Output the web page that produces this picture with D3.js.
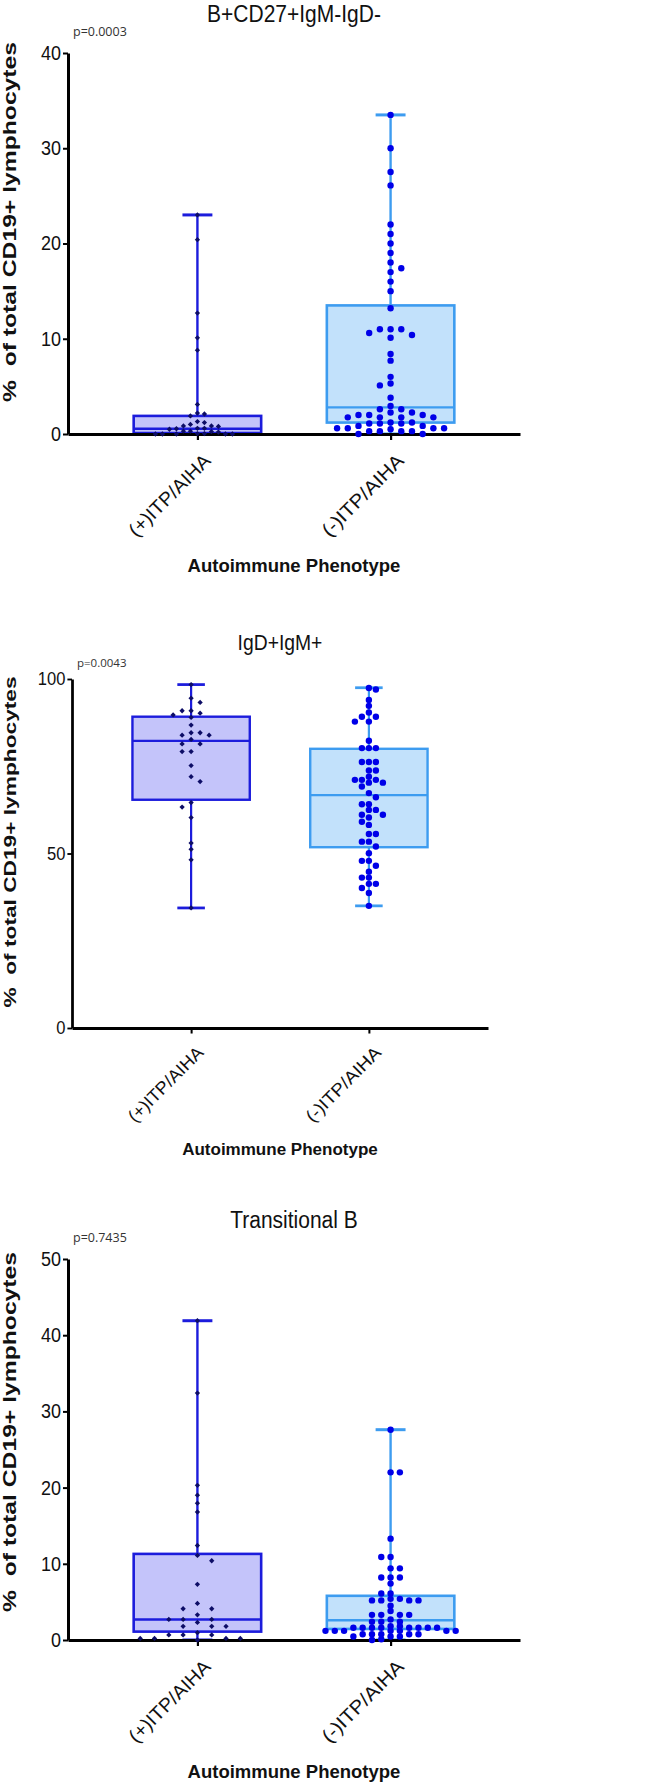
<!DOCTYPE html>
<html lang="en">
<head>
<meta charset="UTF-8">
<title>B cell subsets by autoimmune phenotype</title>
<script src="https://cdnjs.cloudflare.com/ajax/libs/d3/7.8.5/d3.min.js"></script>
<style>
  body { margin: 0; background: #fff; }
  svg { display: block; }
  text { font-family: "Liberation Sans", Arial, Helvetica, sans-serif; fill: #111; }
  .pval { font-family: "Open Sans", "DejaVu Sans", sans-serif; fill: #333; }
  .axis-title { font-weight: bold; }
</style>
</head>
<body>
<svg id="fig" width="661" height="1784"></svg>
<script>
const groups = ["(+)ITP/AIHA", "(-)ITP/AIHA"];
const titles = ["B+CD27+IgM-IgD-", "IgD+IgM+", "Transitional B"];
const pValues = ["p=0.0003", "p=0.0043", "p=0.7435"];
const yTicks = [[0, 10, 20, 30, 40], [0, 50, 100], [0, 10, 20, 30, 40, 50]];
const yMax = [40, 100, 50];
const yLabel = "%  of total CD19+ lymphocytes";
const xLabel = "Autoimmune Phenotype";

// individual values
const memPos = [23.0, 20.4, 12.7, 10.1, 8.8, 3.1, 2.2, 2.1, 1.9, 1.3, 1.2, 1.0, 0.85, 0.85, 0.8,
  0.6, 0.6, 0.55, 0.5, 0.3, 0.3, 0.25, 0.2, 0.05, 0.05, 0, 0, 0, 0, 0];
const memNeg = [33.5, 30.0, 27.5, 26.1, 22.0, 21.0, 20.0, 19.0, 18.0, 17.4, 17.0, 16.0, 15.0, 13.2,
  11.0, 11.0, 11.0, 10.6, 10.4, 10.1, 8.4, 7.7, 6.0, 5.3, 5.1, 3.8, 2.95, 2.6, 2.6, 2.25, 2.25,
  2.0, 2.0, 2.0, 1.75, 1.75, 1.75, 1.75, 1.2, 1.2, 1.1, 1.1, 1.1, 0.85, 0.85, 0.6, 0.6, 0.6, 0.6,
  0.5, 0.3, 0.3, 0.3, 0.3, 0, 0];
const igdPos = [98.4, 94.5, 93.3, 90.9, 90.9, 90.2, 89.7, 89.0, 86.8, 84.6, 84.6, 83.9, 83.9, 82.7,
  81.4, 81.4, 79.2, 79.2, 75.2, 72.0, 70.6, 64.6, 63.3, 60.3, 53.0, 51.2, 48.2, 34.4];
const igdNeg = [97.4, 97.0, 94.0, 92.3, 90.4, 89.2, 89.2, 87.8, 87.8, 82.3, 80.2, 80.2, 80.2, 76.2,
  76.2, 76.2, 73.8, 73.8, 72.0, 71.1, 71.1, 71.1, 70.3, 70.3, 69.2, 67.3, 66.1, 64.1, 64.1, 62.5,
  62.5, 61.1, 61.1, 60.3, 59.1, 58.2, 55.6, 55.6, 53.4, 53.4, 52.0, 50.1, 47.9, 47.9, 46.5, 44.8,
  43.1, 43.1, 41.3, 41.3, 40.1, 38.7, 35.0];
const transPos = [41.9, 32.4, 20.3, 19.0, 17.95, 16.8, 12.4, 11.1, 10.4, 7.3, 4.8, 4.1, 4.1, 3.3,
  2.7, 2.7, 2.7, 2.3, 1.8, 1.8, 1.8, 0.96, 0.66, 0.66, 0.66, 0.2, 0.2, 0.2, 0.2, 0];
const transNeg = [27.6, 22.0, 22.0, 13.3, 10.9, 10.9, 9.4, 9.4, 8.2, 8.2, 8.2, 7.4, 6.1, 6.1, 5.4,
  5.4, 5.2, 5.2, 5.2, 5.2, 4.5, 3.8, 3.3, 3.3, 3.3, 3.3, 2.7, 2.4, 2.4, 2.4, 1.8, 1.8,
  1.6, 1.6, 1.6, 1.6, 1.6, 1.6, 1.6, 1.6, 1.2, 1.2, 1.2, 1.2, 1.2, 1.2, 1.2,
  0.75, 0.75, 0.75, 0.75, 0.75, 0.45, 0.45, 0.45, 0.1, 0];

// min, Q1, median, Q3, max as drawn
const memBoxPos = [0, 0.1, 0.55, 1.9, 23.0];
const memBoxNeg = [0, 1.2, 2.8, 13.5, 33.5];
const igdBoxPos = [34.4, 65.4, 82.3, 89.2, 98.4];
const igdBoxNeg = [35.0, 51.8, 66.7, 80.0, 97.5];
const transBoxPos = [0, 1.1, 2.7, 11.3, 41.9];
const transBoxNeg = [0, 1.45, 2.6, 5.8, 27.6];

const colors = [
  {stroke: "#1c1cdc", fill: "#c4c4fa", point: "#0d0d66"},
  {stroke: "#3d9cf0", fill: "#c2e1fb", point: "#0000e8"}
];

const SY = 1.12; // figure text looks a little stretched vertically

const panels = [
  {title: titles[0], p: pValues[0], ticks: yTicks[0], yMax: yMax[0],
   boxes: [memBoxPos, memBoxNeg], points: [memPos, memNeg],
   x0: 68, x1: 520, yTop: 53, yBot: 434, k: 1, pGap: 17, labelY: 222,
   spacing: [7, 10.7], yGap: [5, 6]},
  {title: titles[1], p: pValues[1], ticks: yTicks[1], yMax: yMax[1],
   boxes: [igdBoxPos, igdBoxNeg], points: [igdPos, igdNeg],
   x0: 72, x1: 488, yTop: 679, yBot: 1028, k: 0.92, pGap: 12, labelY: 842,
   spacing: [9, 7], yGap: [5, 5]},
  {title: titles[2], p: pValues[2], ticks: yTicks[2], yMax: yMax[2],
   boxes: [transBoxPos, transBoxNeg], points: [transPos, transNeg],
   x0: 68, x1: 520, yTop: 1259, yBot: 1640, k: 1, pGap: 17, labelY: 1432,
   spacing: [14.3, 9.3], yGap: [6, 4.5]}
];

const svg = d3.select("#fig");

// greedy swarm: each dot takes the nearest free slot (half-step lattice) from the centre
function swarm(values, y, s, yGap) {
  const pts = values.map(v => ({v, py: y(v)})).sort((a, b) => b.v - a.v);
  const placed = [];
  let side = 1;
  const free = (py, dx) => placed.every(q => Math.abs(q.py - py) >= yGap || Math.abs(q.dx - dx) >= s - 0.01);
  pts.forEach(p => {
    for (let j = 0; j < 100; j++) {
      const cands = j === 0 ? [0] : [side * j * s / 2, -side * j * s / 2];
      const hit = cands.find(dx => free(p.py, dx));
      if (hit !== undefined) {
        p.dx = hit;
        if (j) side = -side;
        break;
      }
    }
    placed.push(p);
  });
  return pts;
}

function drawPanel(cfg) {
  const k = cfg.k;
  const g = svg.append("g");
  const x = d3.scalePoint().domain(groups).range([cfg.x0, cfg.x1]).padding(0.67);
  const y = d3.scaleLinear().domain([0, cfg.yMax]).range([cfg.yBot, cfg.yTop]);
  const step = x.step();
  const boxW = step * 0.66, capW = step * 0.155;

  groups.forEach((name, i) => {
    const [mn, q1, med, q3, mx] = cfg.boxes[i];
    const c = colors[i];
    const cx = x(name);
    const bg = g.append("g");
    bg.append("line")
      .attr("x1", cx).attr("x2", cx).attr("y1", y(mn)).attr("y2", y(mx))
      .attr("stroke", c.stroke).attr("stroke-width", 2.4 * k);
    [mn, mx].forEach(v => {
      bg.append("line")
        .attr("x1", cx - capW / 2).attr("x2", cx + capW / 2)
        .attr("y1", y(v)).attr("y2", y(v))
        .attr("stroke", c.stroke).attr("stroke-width", 3 * k);
    });
    bg.append("rect")
      .attr("x", cx - boxW / 2).attr("y", y(q3))
      .attr("width", boxW).attr("height", y(q1) - y(q3))
      .attr("fill", c.fill).attr("stroke", c.stroke).attr("stroke-width", 2.6 * k);
    bg.append("line")
      .attr("x1", cx - boxW / 2).attr("x2", cx + boxW / 2)
      .attr("y1", y(med)).attr("y2", y(med))
      .attr("stroke", c.stroke).attr("stroke-width", 2.4 * k);
  });

  // axes
  const yAxis = g.append("g")
    .attr("transform", `translate(${cfg.x0},0)`)
    .style("color", "#000")
    .call(d3.axisLeft(y).tickValues(cfg.ticks).tickSize(5 * k).tickSizeOuter(0).tickPadding(2));
  yAxis.select(".domain").attr("stroke-width", 3 * k);
  yAxis.selectAll(".tick line").attr("stroke-width", 2 * k);
  yAxis.selectAll(".tick text")
    .attr("font-size", 18 * k)
    .attr("font-family", "\"Liberation Sans\", Arial, sans-serif")
    .attr("fill", "#111")
    .attr("transform", `scale(1,${SY})`);

  const xAxis = g.append("g")
    .attr("transform", `translate(0,${cfg.yBot})`)
    .style("color", "#000")
    .call(d3.axisBottom(x).tickSize(6 * k).tickSizeOuter(0));
  xAxis.select(".domain").attr("stroke-width", 3 * k);
  xAxis.selectAll(".tick line").attr("stroke-width", 2.2 * k);
  xAxis.selectAll(".tick text")
    .attr("y", 0).attr("dy", 0)
    .attr("text-anchor", "end")
    .attr("font-size", 19 * k)
    .attr("textLength", 107 * k)
    .attr("lengthAdjust", "spacingAndGlyphs")
    .attr("font-family", "\"Liberation Sans\", Arial, sans-serif")
    .attr("fill", "#111")
    .attr("transform", `translate(${14 * k},${28 * k}) rotate(-45)`);

  // dots on top
  groups.forEach((name, i) => {
    const pts = swarm(cfg.points[i], y, cfg.spacing[i], cfg.yGap[i]);
    const cx = x(name);
    const c = colors[i];
    if (i === 0) {
      g.append("g").selectAll("path").data(pts).join("path")
        .attr("d", d3.symbol(d3.symbolSquare, 14)())
        .attr("transform", d => `translate(${cx + d.dx},${d.py}) rotate(45)`)
        .attr("fill", c.point);
    } else {
      g.append("g").selectAll("circle").data(pts).join("circle")
        .attr("cx", d => cx + d.dx).attr("cy", d => d.py)
        .attr("r", 3.2).attr("fill", c.point);
    }
  });

  // texts
  g.append("text")
    .attr("text-anchor", "middle")
    .attr("font-size", 21 * k)
    .attr("transform", `translate(${(cfg.x0 + cfg.x1) / 2},${cfg.yTop - 31 * k}) scale(1,1.1)`)
    .text(cfg.title);

  g.append("text")
    .attr("class", "pval")
    .attr("font-size", 12.5 * k)
    .attr("x", cfg.x0 + 5).attr("y", cfg.yTop - cfg.pGap)
    .text(cfg.p);

  g.append("text")
    .attr("class", "axis-title")
    .attr("text-anchor", "middle")
    .attr("font-size", 18.5 * k)
    .attr("textLength", 360 * k)
    .attr("lengthAdjust", "spacingAndGlyphs")
    .style("white-space", "pre")
    .attr("transform", `translate(16,${cfg.labelY}) rotate(-90)`)
    .text(yLabel);

  g.append("text")
    .attr("class", "axis-title")
    .attr("text-anchor", "middle")
    .attr("font-size", 18.5 * k)
    .attr("x", (cfg.x0 + cfg.x1) / 2).attr("y", cfg.yBot + 138 * k)
    .text(xLabel);
}

panels.forEach(drawPanel);
</script>
</body>
</html>
